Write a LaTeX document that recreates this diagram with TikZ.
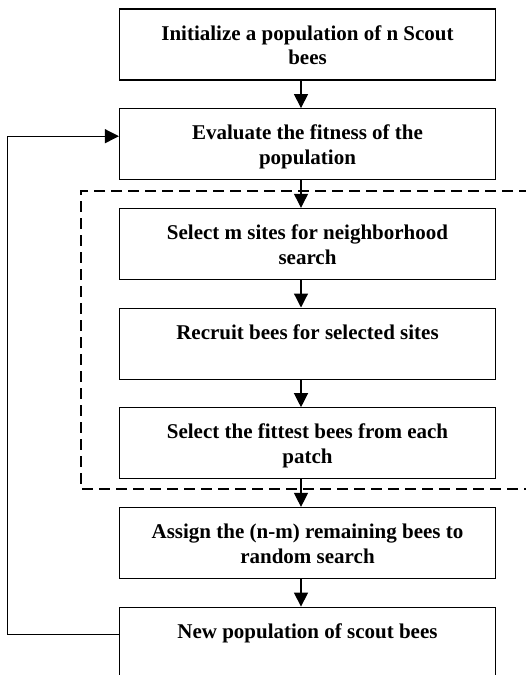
\documentclass[tikz,border=0pt]{standalone}
\usepackage{fontspec}
\setmainfont{Liberation Serif}
\usepackage{tikz}
\usetikzlibrary{arrows.meta, positioning}
\newcommand{\boxtext}[1]{\parbox[c][43pt][t]{325pt}{\centering\strut #1}}

\begin{document}
\begin{tikzpicture}[x=1pt,y=-1pt,node distance=99.7pt]
\tikzstyle{stage} = [rectangle, minimum width=376pt, minimum height=71pt, inner sep=0pt, draw=black, line width=1.2pt, font=\bfseries\fontsize{21}{24.5}\selectfont]
\tikzstyle{arrow} = [line width=1.2pt,-{Triangle[length=14pt,width=14pt]}]
\tikzstyle{frame} = [line width=1.2pt, dash pattern=on 11pt off 6pt]

\useasboundingbox (0,0) rectangle (526,675);

\node (init) [stage] at (307.5,44.5) {\boxtext{Initialize a population of n Scout bees}};
\node (eval) [stage, below of=init] {\boxtext{Evaluate the fitness of the population}};
\node (sites) [stage, below of=eval] {\boxtext{Select m sites for neighborhood search}};
\node (recruit) [stage, below of=sites] {\boxtext{Recruit bees for selected sites}};
\node (fittest) [stage, below of=recruit] {\boxtext{Select the fittest bees from each patch}};
\node (assign) [stage, below of=fittest] {\boxtext{Assign the (n-m) remaining bees to random search}};
\node (newpop) [stage, below of=assign] {\boxtext{New population of scout bees}};

% local search part
\draw [frame] (530,191) -- (81,191) -- (81,489) -- (530,489);

\draw [arrow] ([xshift=-6.5pt]init.south) -- ([xshift=-6.5pt]eval.north);
\draw [arrow] ([xshift=-6.5pt]eval.south) -- ([xshift=-6.5pt]sites.north);
\draw [arrow] ([xshift=-6.5pt]sites.south) -- ([xshift=-6.5pt]recruit.north);
\draw [arrow] ([xshift=-6.5pt]recruit.south) -- ([xshift=-6.5pt]fittest.north);
\draw [arrow] ([xshift=-6.5pt]fittest.south) -- ([xshift=-6.5pt]assign.north);
\draw [arrow] ([xshift=-6.5pt]assign.south) -- ([xshift=-6.5pt]newpop.north);
\draw [arrow] ([yshift=8pt]newpop.west) -- ++(-111.5,0) |- ([yshift=8pt]eval.west);

\end{tikzpicture}
\end{document}
